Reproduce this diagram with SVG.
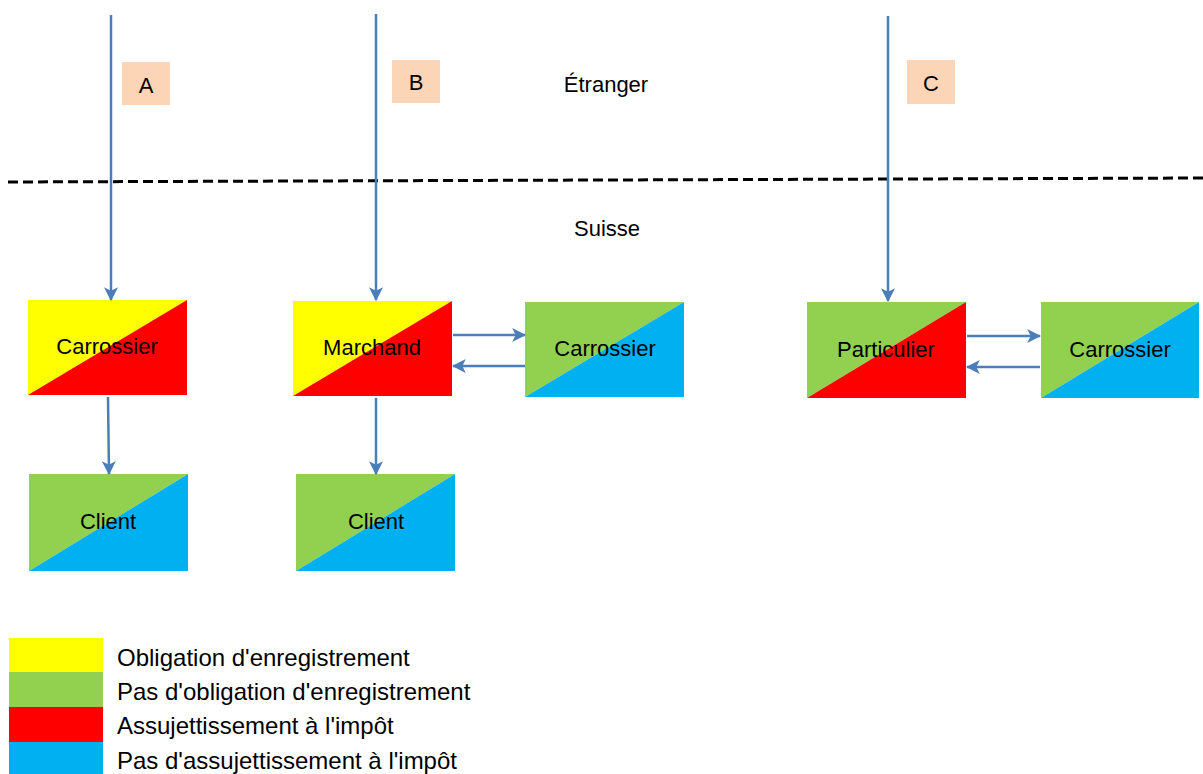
<svg xmlns="http://www.w3.org/2000/svg" width="1203" height="774" viewBox="0 0 1203 774">
<style>
text{font-family:"Liberation Sans",Arial,sans-serif;fill:#000}
.lbl{font-size:22px;text-anchor:middle}
.leg{font-size:24px}
.tag{fill:#FBD5B5}
.conn{stroke:#4A7EBB;stroke-width:2.5;fill:none;marker-end:url(#ah)}
.y{fill:#FFFF00}.g{fill:#92D050}.r{fill:#FF0000}.b{fill:#00B0F0}
</style>
<defs>
<marker id="ah" markerUnits="userSpaceOnUse" markerWidth="14" markerHeight="14" viewBox="0 0 12 12" refX="11" refY="6" orient="auto">
<path d="M0,0 L12,6 L0,12 L3,6 Z" fill="#4A7EBB"/>
</marker>
</defs>
<rect width="1203" height="774" fill="#fff"/>
<line x1="8" y1="182" x2="1203" y2="178" stroke="#000" stroke-width="3" stroke-dasharray="10 5"/>
<text x="606" y="92" class="lbl">Étranger</text>
<text x="607" y="236" class="lbl">Suisse</text>
<g id="tagA"><rect class="tag" x="122" y="62" width="48" height="43"/><text x="146" y="93" class="lbl">A</text></g>
<g id="tagB"><rect class="tag" x="392" y="60" width="48" height="43"/><text x="416" y="90" class="lbl">B</text></g>
<g id="tagC"><rect class="tag" x="907" y="60" width="48" height="44"/><text x="931" y="91" class="lbl">C</text></g>
<g id="carrossierA"><polygon class="y" points="28,300 187,300 28,395"/><polygon class="r" points="187,300 187,395 28,395"/><text x="107" y="354" class="lbl">Carrossier</text></g>
<g id="clientA"><polygon class="g" points="29,474 188,474 29,571"/><polygon class="b" points="188,474 188,571 29,571"/><text x="108" y="529" class="lbl">Client</text></g>
<g id="marchand"><polygon class="y" points="293,301 452,301 293,396"/><polygon class="r" points="452,301 452,396 293,396"/><text x="372" y="355" class="lbl">Marchand</text></g>
<g id="clientB"><polygon class="g" points="296,474 455,474 296,571"/><polygon class="b" points="455,474 455,571 296,571"/><text x="376" y="529" class="lbl">Client</text></g>
<g id="carrossierB"><polygon class="g" points="525,302 684,302 525,397"/><polygon class="b" points="684,302 684,397 525,397"/><text x="605" y="356" class="lbl">Carrossier</text></g>
<g id="particulier"><polygon class="g" points="807,302 966,302 807,398"/><polygon class="r" points="966,302 966,398 807,398"/><text x="886" y="357" class="lbl">Particulier</text></g>
<g id="carrossierC"><polygon class="g" points="1041,302 1199,302 1041,398"/><polygon class="b" points="1199,302 1199,398 1041,398"/><text x="1120" y="357" class="lbl">Carrossier</text></g>
<g id="connectors">
<line class="conn" x1="111" y1="15" x2="111" y2="300"/>
<line class="conn" x1="376" y1="14" x2="376" y2="300"/>
<line class="conn" x1="888" y1="16" x2="888" y2="301"/>
<line class="conn" x1="108" y1="397" x2="109" y2="474"/>
<line class="conn" x1="376" y1="398" x2="376" y2="474"/>
<line class="conn" x1="453" y1="335" x2="525" y2="335"/>
<line class="conn" x1="525" y1="366" x2="453" y2="366"/>
<line class="conn" x1="967" y1="336" x2="1040" y2="336"/>
<line class="conn" x1="1040" y1="367" x2="967" y2="367"/>
</g>
<g id="legend">
<rect class="y" x="9" y="638" width="94" height="34"/>
<rect class="g" x="9" y="672" width="94" height="35"/>
<rect class="r" x="9" y="707" width="94" height="35"/>
<rect class="b" x="9" y="742" width="94" height="32"/>
<text x="117" y="666" class="leg">Obligation d'enregistrement</text>
<text x="117" y="700" class="leg">Pas d'obligation d'enregistrement</text>
<text x="117" y="734" class="leg">Assujettissement à l'impôt</text>
<text x="117" y="769" class="leg">Pas d'assujettissement à l'impôt</text>
</g>
</svg>
